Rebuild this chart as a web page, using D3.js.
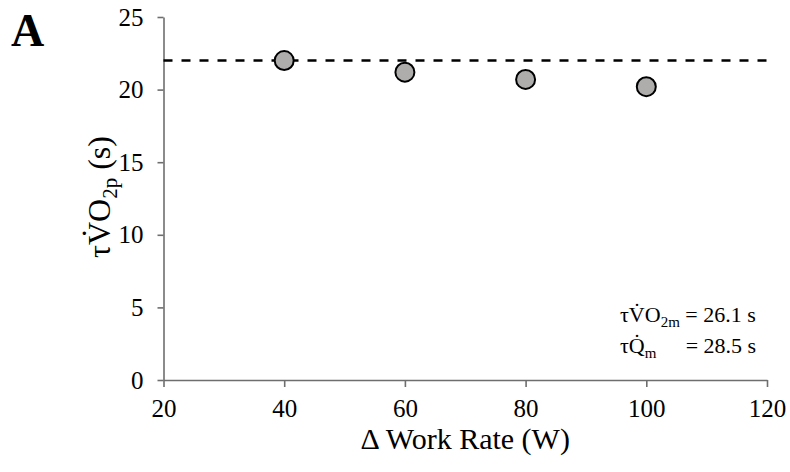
<!DOCTYPE html>
<html><head><meta charset="utf-8">
<script src="https://cdn.jsdelivr.net/npm/d3@7"></script>
<style>body{margin:0;background:#fff}svg{display:block}svg text{font-family:"Liberation Serif","Times New Roman",serif !important;fill:#000}</style>
</head><body><svg id="c" width="790" height="472" font-family="Liberation Serif, serif"></svg>
<script>
const workRates = [40, 60, 80, 100];
const tauVO2p = [22.0, 21.2, 20.7, 20.2];
const referenceTau = 22.0;
const xTicks = [20, 40, 60, 80, 100, 120];
const yTicks = [0, 5, 10, 15, 20, 25];
const annotations = [["τV̇O", "2m", "= 26.1 s"], ["τQ̇", "m", "= 28.5 s"]];

const FONT = "Liberation Serif, Times New Roman, serif";
const svg = d3.select("#c");
const m = {l: 163.5, r: 767, t: 17, b: 380};
const x = d3.scaleLinear().domain([20, 120]).range([m.l, m.r]);
const y = d3.scaleLinear().domain([0, 25]).range([m.b, m.t]);
const axisColor = "#6e6e6e";

// x axis
const gx = svg.append("g").attr("transform", `translate(0,${m.b})`)
  .call(d3.axisBottom(x).tickValues(xTicks).tickSize(7).tickSizeOuter(0).tickPadding(12))
  .attr("font-family", FONT).attr("font-size", 25);
gx.select(".domain").attr("stroke", axisColor).attr("stroke-width", 1.6);
gx.selectAll(".tick line").attr("stroke", axisColor).attr("stroke-width", 1.6);
gx.selectAll(".tick text").attr("fill", "#000");

// y axis
const gy = svg.append("g").attr("transform", `translate(${m.l},0)`)
  .call(d3.axisLeft(y).tickValues(yTicks).tickSize(6).tickSizeOuter(0).tickPadding(14))
  .attr("font-family", FONT).attr("font-size", 25);
gy.select(".domain").attr("stroke", axisColor).attr("stroke-width", 1.6);
gy.selectAll(".tick line").attr("stroke", axisColor).attr("stroke-width", 1.6);
gy.selectAll(".tick text").attr("fill", "#000");

// dashed reference line
svg.append("line").attr("x1", x(20)).attr("x2", x(120))
  .attr("y1", y(referenceTau)).attr("y2", y(referenceTau))
  .attr("stroke", "#000").attr("stroke-width", 2.6).attr("stroke-dasharray", "9,9");

// points
svg.append("g").selectAll("circle").data(workRates).join("circle")
  .attr("cx", d => x(d)).attr("cy", (d, i) => y(tauVO2p[i])).attr("r", 9.5)
  .attr("fill", "#afacac").attr("stroke", "#000").attr("stroke-width", 2);

// axis labels
svg.append("text").attr("x", (m.l + m.r) / 2).attr("y", 449).attr("text-anchor", "middle")
  .attr("font-family", FONT).style("font-size", "30px").text("Δ Work Rate (W)");

const yl = svg.append("text").attr("transform", "translate(110,197) rotate(-90)")
  .attr("text-anchor", "middle").attr("font-family", FONT).style("font-size", "32px");
yl.append("tspan").text("τV̇O");
yl.append("tspan").attr("dy", 7).style("font-size", "21px").text("2p");
yl.append("tspan").attr("dy", -7).text(" (s)");

// panel letter
svg.append("text").attr("x", 11).attr("y", 46).attr("font-family", FONT)
  .style("font-size", "46px").style("font-weight", "bold").text("A");

// annotation
const ax = 620, ay = [322, 353];
const t1 = svg.append("text").attr("x", ax).attr("y", ay[0]).attr("font-family", FONT).style("font-size", "22px");
t1.append("tspan").text(annotations[0][0]);
t1.append("tspan").attr("dy", 5).style("font-size", "15px").text(annotations[0][1]);
const bb = t1.node().getBBox();
const eqX = bb.x + bb.width;
t1.append("tspan").attr("dy", -5).text(" " + annotations[0][2]);
const t2 = svg.append("text").attr("x", ax).attr("y", ay[1]).attr("font-family", FONT).style("font-size", "22px");
t2.append("tspan").text(annotations[1][0]);
t2.append("tspan").attr("dy", 5).style("font-size", "15px").text(annotations[1][1]);
svg.append("text").attr("x", eqX + 5.5).attr("y", ay[1]).attr("font-family", FONT).style("font-size", "22px").text(annotations[1][2]);
</script></body></html>
